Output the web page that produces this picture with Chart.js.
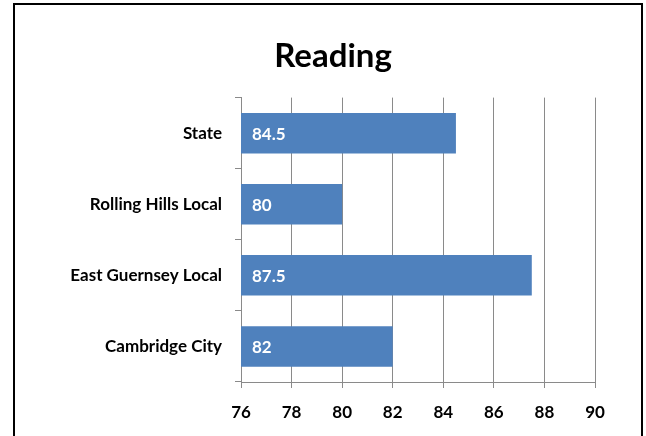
<!DOCTYPE html>
<html>
<head>
<meta charset="utf-8">
<script src="https://cdn.jsdelivr.net/npm/chart.js@4.4.0/dist/chart.umd.min.js"></script>
<style>
  body { margin: 0; background: #fff; }
  #wrap { width: 646px; height: 436px; }
</style>
</head>
<body>
<div id="wrap"><canvas id="barChart" width="646" height="436"></canvas></div>
<script>
// chart data
const categories = ['State', 'Rolling Hills Local', 'East Guernsey Local', 'Cambridge City'];
const readingScores = [84.5, 80, 87.5, 82];
const xTicks = [76, 78, 80, 82, 84, 86, 88, 90];

const gridGray = '#8a8a8a';

// outer frame round the chart
const framePlugin = {
    id: 'frame',
    beforeDraw(chart) {
        const c = chart.ctx;
        c.save();
        c.fillStyle = '#fff';
        c.fillRect(0, 0, chart.width, chart.height);
        c.strokeStyle = '#000';
        c.lineWidth = 2;
        c.strokeRect(14, 4, 628, 500);
        c.restore();
    }
};

// value labels inside the bars, at the base
const barLabels = {
    id: 'barLabels',
    afterDatasetsDraw(chart) {
        const c = chart.ctx;
        const meta = chart.getDatasetMeta(0);
        const baseX = chart.scales.x.getPixelForValue(chart.scales.x.min);
        c.save();
        c.fillStyle = '#fff';
        c.font = 'bold 17px Lato, sans-serif';
        c.textAlign = 'left';
        c.textBaseline = 'middle';
        meta.data.forEach((bar, i) => {
            c.fillText(String(readingScores[i]), baseX + 11, bar.y + 1);
        });
        c.restore();
    }
};

const ctx = document.getElementById('barChart').getContext('2d');
const chartInstance = new Chart(ctx, {
    type: 'bar',
    data: {
        labels: categories,
        datasets: [{
            label: 'Reading',
            data: readingScores,
            backgroundColor: '#4f81bd',
            borderWidth: 0,
            barPercentage: 0.57,
            categoryPercentage: 1
        }]
    },
    options: {
        indexAxis: 'y',
        responsive: false,
        animation: false,
        layout: { padding: { left: 71, right: 51, top: 0, bottom: 0 } },
        plugins: {
            legend: { display: false },
            tooltip: { enabled: false },
            title: {
                display: true,
                text: 'Reading',
                color: '#000',
                font: { family: 'Lato, sans-serif', size: 33, weight: 'bold', lineHeight: 1.2 },
                padding: { top: 37, bottom: 21 }
            }
        },
        scales: {
            x: {
                min: 76,
                max: 90,
                afterBuildTicks: axis => { axis.ticks = xTicks.map(v => ({ value: v })); },
                afterFit: axis => { axis.height = 54; },
                grid: { color: gridGray, tickLength: 6, lineWidth: 1 },
                border: { color: gridGray, width: 1 },
                ticks: {
                    color: '#000',
                    padding: 14,
                    font: { family: 'Lato, sans-serif', size: 17, weight: 'bold' }
                }
            },
            y: {
                afterFit: axis => { axis.width = 170; },
                grid: { drawOnChartArea: false, color: gridGray, tickLength: 6, offset: true },
                border: { color: gridGray, width: 1 },
                ticks: {
                    color: '#000',
                    padding: 13,
                    font: { family: 'Lato, sans-serif', size: 17, weight: 'bold' }
                }
            }
        }
    },
    plugins: [framePlugin, barLabels]
});
</script>
</body>
</html>
